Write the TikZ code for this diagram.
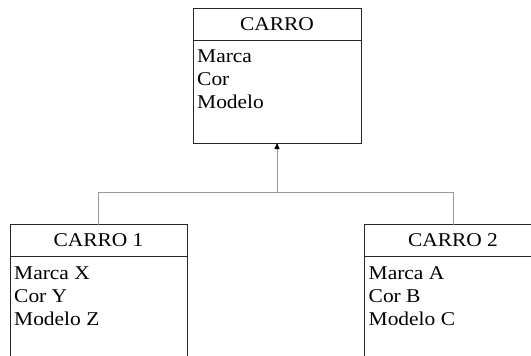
\documentclass[tikz,border=0pt]{standalone}
\usepackage{fontspec}
\setmainfont[FakeStretch=1.1]{Liberation Serif}
\usetikzlibrary{arrows.meta,positioning}

\begin{document}
\begin{tikzpicture}[x=1pt,y=-1pt, hd/.style={draw=black!85,line width=1pt,minimum height=32pt,inner sep=0pt,outer sep=0pt,font=\fontsize{19.5}{23}\selectfont}, bd/.style={draw=black!85,line width=1pt,inner sep=0pt,outer sep=0pt}, att/.style={anchor=north west,align=left,inner xsep=4pt,inner ysep=10pt,font=\fontsize{19.5}{23}\selectfont}, lnk/.style={draw=black!40,line width=0.9pt}]
\useasboundingbox (0,0) rectangle (531,356);
\clip (0,0) rectangle (531,356);
% superclass
\node[hd,minimum width=168pt] (C) at (277,24) {CARRO};
\node[bd,minimum width=168pt,minimum height=103pt,below=0pt of C] (Cb) {};
\node[att] (Ct) at (Cb.north west) {Marca\\ Cor\\ Modelo};
% subclasses
\node[hd,minimum width=177pt] (C1) at (98.5,240.5) {CARRO 1};
\node[bd,minimum width=177pt,minimum height=110pt,below=0pt of C1] (C1b) {};
\node[att] (C1t) at (C1b.north west) {Marca X\\ Cor Y\\ Modelo Z};
\node[hd,minimum width=177pt] (C2) at (453,240.5) {CARRO 2};
\node[bd,minimum width=177pt,minimum height=110pt,below=0pt of C2] (C2b) {};
\node[att] (C2t) at (C2b.north west) {Marca A\\ Cor B\\ Modelo C};
% inheritance
\coordinate[above=32.5pt of C1.north] (J);
\draw[lnk] (C1.north) -- (J) -| (C2.north);
\draw[lnk,-{Triangle[length=6pt,width=5pt,color=black]}] (Cb.south |- J) -- (Cb.south);
\end{tikzpicture}
\end{document}
